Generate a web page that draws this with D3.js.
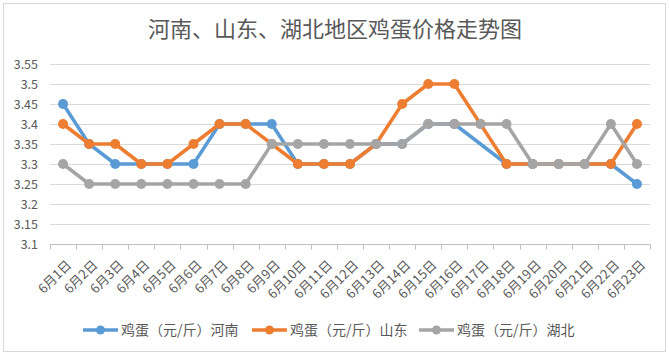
<!DOCTYPE html>
<html>
<head>
<meta charset="utf-8">
<script src="https://cdn.jsdelivr.net/npm/d3@7/dist/d3.min.js"></script>
<style>
  html, body { margin: 0; padding: 0; background: #fff; }
  svg { display: block; }
  text { font-family: "Microsoft YaHei", "Noto Sans CJK SC", "Noto Sans", sans-serif; }
</style>
</head>
<body>
<svg id="chart" width="669" height="355"></svg>
<script>
const categories = ["6月1日","6月2日","6月3日","6月4日","6月5日","6月6日","6月7日","6月8日","6月9日","6月10日","6月11日","6月12日","6月13日","6月14日","6月15日","6月16日","6月17日","6月18日","6月19日","6月20日","6月21日","6月22日","6月23日"];
const henan   = [3.45,3.35,3.30,3.30,3.30,3.30,3.40,3.40,3.40,3.30,3.30,3.30,3.35,3.35,3.40,3.40,null,3.30,3.30,3.30,3.30,3.30,3.25];
const shandong= [3.40,3.35,3.35,3.30,3.30,3.35,3.40,3.40,3.35,3.30,3.30,3.30,3.35,3.45,3.50,3.50,3.40,3.30,3.30,3.30,3.30,3.30,3.40];
const hubei   = [3.30,3.25,3.25,3.25,3.25,3.25,3.25,3.25,3.35,3.35,3.35,3.35,3.35,3.35,3.40,3.40,3.40,3.40,3.30,3.30,3.30,3.40,3.30];
const seriesNames = ["鸡蛋（元/斤）河南","鸡蛋（元/斤）山东","鸡蛋（元/斤）湖北"];
const seriesColors = ["#5B9BD5","#ED7D31","#A5A5A5"];
const yTicks = [3.1,3.15,3.2,3.25,3.3,3.35,3.4,3.45,3.5,3.55];
const title = "河南、山东、湖北地区鸡蛋价格走势图";

const svg = d3.select("#chart");
const W = 669, H = 355;

// border
svg.append("rect").attr("x", 3.5).attr("y", 3.5).attr("width", W - 7).attr("height", H - 7)
  .attr("fill", "#fff").attr("stroke", "#D9D9D9").attr("stroke-width", 1);

svg.append("text").attr("x", 335).attr("y", 37).attr("text-anchor", "middle")
  .attr("font-size", 22).attr("fill", "#595959").text(title);

const x = d3.scaleBand().domain(categories).range([50, 650]).paddingInner(0).paddingOuter(0);
const y = d3.scaleLinear().domain([3.1, 3.55]).range([244, 64]);
const cx = i => x(categories[i]) + x.bandwidth() / 2;

// gridlines
svg.append("g").selectAll("line").data(yTicks.slice(1)).join("line")
  .attr("x1", 50).attr("x2", 650)
  .attr("y1", d => Math.round(y(d)) + 0.5).attr("y2", d => Math.round(y(d)) + 0.5)
  .attr("stroke", "#D9D9D9").attr("stroke-width", 1);

// y axis labels
const yAxis = d3.axisLeft(y).tickValues(yTicks).tickSize(0).tickPadding(0)
  .tickFormat(d => d3.format("")(+d.toFixed(2)));
const gy = svg.append("g").attr("transform", "translate(38,0)").call(yAxis);
gy.select(".domain").remove();
gy.selectAll("text").attr("font-size", 12.5).attr("fill", "#595959")
  .attr("font-family", "'Liberation Sans', 'Noto Sans', sans-serif");

// x axis
const gx = svg.append("g").attr("transform", `translate(0,${Math.round(y(3.1)) + 0.5})`);
gx.append("line").attr("x1", 50).attr("x2", 650).attr("stroke", "#BFBFBF");
const bounds = categories.map(c => x(c)).concat([650]);
gx.selectAll("line.tk").data(bounds).join("line").attr("class", "tk")
  .attr("x1", d => Math.round(d) + 0.5).attr("x2", d => Math.round(d) + 0.5)
  .attr("y1", 0).attr("y2", 5).attr("stroke", "#BFBFBF");
gx.selectAll("text").data(categories).join("text")
  .attr("transform", d => `translate(${x(d) + x.bandwidth() / 2 + 6},${18}) rotate(-45)`)
  .attr("text-anchor", "end").attr("dy", "0.35em")
  .attr("font-size", 13).attr("fill", "#595959").text(d => d);

// lines (empty cells are connected, as in the source)
const allSeries = [henan, shandong, hubei];
allSeries.forEach((s, k) => {
  const pts = s.map((v, i) => [cx(i), v]).filter(p => p[1] !== null);
  const line = d3.line().x(p => p[0]).y(p => y(p[1]));
  const g = svg.append("g");
  g.append("path").datum(pts).attr("d", line).attr("fill", "none")
    .attr("stroke", seriesColors[k]).attr("stroke-width", 3.5).attr("stroke-linejoin", "round");
  g.selectAll("circle").data(pts).join("circle")
    .attr("cx", p => p[0]).attr("cy", p => y(p[1]))
    .attr("r", 5).attr("fill", seriesColors[k]);
});

// legend
const legendX = [83, 252, 419];
const lg = svg.append("g");
seriesNames.forEach((n, k) => {
  const g = lg.append("g").attr("transform", `translate(${legendX[k]},330)`);
  g.append("line").attr("x1", 0).attr("x2", 35).attr("stroke", seriesColors[k]).attr("stroke-width", 3.5);
  g.append("circle").attr("cx", 17.5).attr("cy", 0).attr("r", 4.5).attr("fill", seriesColors[k]);
  g.append("text").attr("x", 38).attr("y", 0).attr("dy", "0.36em").attr("font-size", 14)
    .attr("fill", "#595959").text(n);
});
</script>
</body>
</html>
